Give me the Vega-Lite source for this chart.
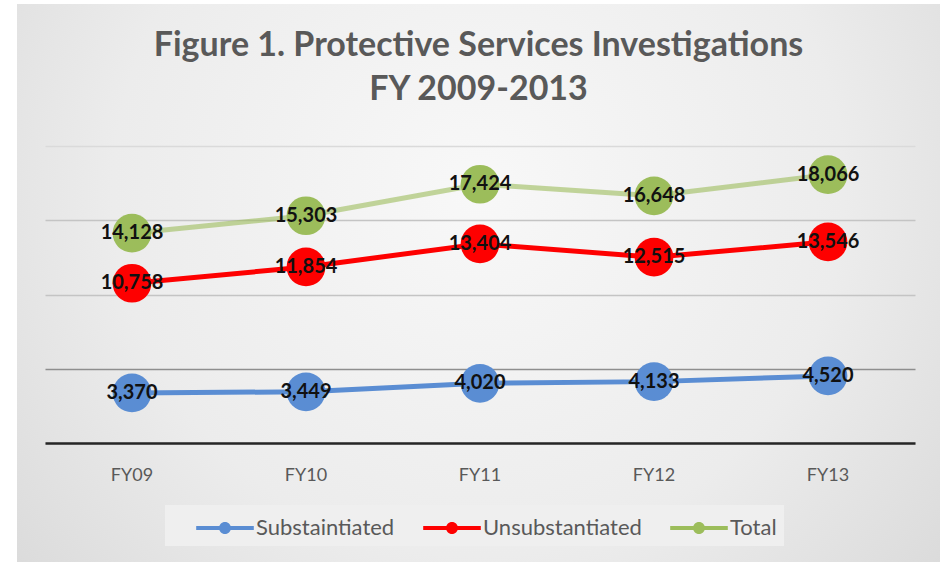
{
  "$schema": "https://vega.github.io/schema/vega-lite/v6.json",
  "autosize": "none",
  "width": 923,
  "height": 558,
  "padding": {"left": 17, "top": 4, "right": 11, "bottom": 0},
  "background": "#ffffff",
  "title": {
    "text": ["Figure 1. Protective Services Investigations", "FY 2009-2013"],
    "font": "Lato",
    "fontSize": 34,
    "fontWeight": "bold",
    "color": "#595959",
    "anchor": "middle",
    "frame": "group",
    "baseline": "top",
    "lineHeight": 44,
    "offset": -103
  },
  "config": {
    "view": {
      "stroke": null,
      "fill": {
        "gradient": "radial",
        "x1": 0.5, "y1": 0.4, "r1": 0,
        "x2": 0.5, "y2": 0.4, "r2": 0.72,
        "stops": [
          {"offset": 0, "color": "#f8f8f8"},
          {"offset": 0.55, "color": "#ececec"},
          {"offset": 1, "color": "#d6d6d6"}
        ]
      }
    },
    "font": "Lato"
  },
  "data": {
    "values": [
      {"year": "FY09", "series": "Substaintiated", "value": 3370},
      {"year": "FY10", "series": "Substaintiated", "value": 3449},
      {"year": "FY11", "series": "Substaintiated", "value": 4020},
      {"year": "FY12", "series": "Substaintiated", "value": 4133},
      {"year": "FY13", "series": "Substaintiated", "value": 4520},
      {"year": "FY09", "series": "Unsubstantiated", "value": 10758},
      {"year": "FY10", "series": "Unsubstantiated", "value": 11854},
      {"year": "FY11", "series": "Unsubstantiated", "value": 13404},
      {"year": "FY12", "series": "Unsubstantiated", "value": 12515},
      {"year": "FY13", "series": "Unsubstantiated", "value": 13546},
      {"year": "FY09", "series": "Total", "value": 14128},
      {"year": "FY10", "series": "Total", "value": 15303},
      {"year": "FY11", "series": "Total", "value": 17424},
      {"year": "FY12", "series": "Total", "value": 16648},
      {"year": "FY13", "series": "Total", "value": 18066}
    ]
  },
  "encoding": {
    "x": {
      "field": "year",
      "type": "ordinal",
      "sort": ["FY09", "FY10", "FY11", "FY12", "FY13"],
      "scale": {"type": "band", "range": [28, 898], "paddingInner": 0, "paddingOuter": 0},
      "axis": {
        "title": null,
        "orient": "bottom",
        "offset": -119,
        "labelAngle": 0,
        "labelFont": "Lato",
        "labelFontSize": 18,
        "labelColor": "#595959",
        "labelPadding": 23,
        "ticks": false,
        "grid": false,
        "domainColor": "#262626",
        "domainWidth": 2.5
      }
    },
    "y": {
      "field": "value",
      "type": "quantitative",
      "scale": {"domain": [0, 20000], "range": [439, 142], "nice": false, "zero": true},
      "axis": {
        "title": null,
        "labels": false,
        "ticks": false,
        "domain": false,
        "values": [0, 5000, 10000, 15000, 20000],
        "grid": true,
        "gridColor": {"condition": [{"test": "datum.value === 5000", "value": "#8e8e8e"}, {"test": "datum.value === 20000", "value": "#dadada"}], "value": "#c4c4c4"},
        "gridWidth": 1.3
      }
    }
  },
  "layer": [
    {
      "mark": {"type": "line", "strokeWidth": 5},
      "encoding": {
        "color": {
          "field": "series",
          "type": "nominal",
          "scale": {"domain": ["Substaintiated", "Unsubstantiated", "Total"], "range": ["#5a8dd3", "#fe0000", "#9cbd5b"]},
          "legend": {
            "orient": "none",
            "legendX": 148,
            "legendY": 501,
            "direction": "horizontal",
            "title": null,
            "fillColor": "#efefef",
            "padding": 7,
            "symbolType": "M-1.8,-0.125L1.8,-0.125L1.8,0.125L-1.8,0.125Z M-0.375,0A0.375,0.375 0 1,1 0.375,0A0.375,0.375 0 1,1 -0.375,0Z",
            "symbolSize": 1024,
            "symbolOffset": 37,
            "symbolStrokeWidth": 0,
            "symbolOpacity": 1,
            "labelFont": "Lato",
            "labelFontSize": 22,
            "labelColor": "#595959",
            "labelOffset": 15,
            "columnPadding": 4
          }
        },
        "strokeOpacity": {"condition": {"test": "datum.series === 'Total'", "value": 0.6}, "value": 1}
      }
    },
    {
      "mark": {"type": "point", "filled": true, "size": 1500, "opacity": 1},
      "encoding": {
        "color": {
          "field": "series",
          "type": "nominal",
          "scale": {"domain": ["Substaintiated", "Unsubstantiated", "Total"], "range": ["#5a8dd3", "#fe0000", "#9cbd5b"]}
        }
      }
    },
    {
      "mark": {"type": "text", "font": "Lato", "fontSize": 20, "fontWeight": "bold", "color": "#111111", "baseline": "middle", "align": "center"},
      "encoding": {
        "text": {"field": "value", "type": "quantitative", "format": ","}
      }
    }
  ]
}
